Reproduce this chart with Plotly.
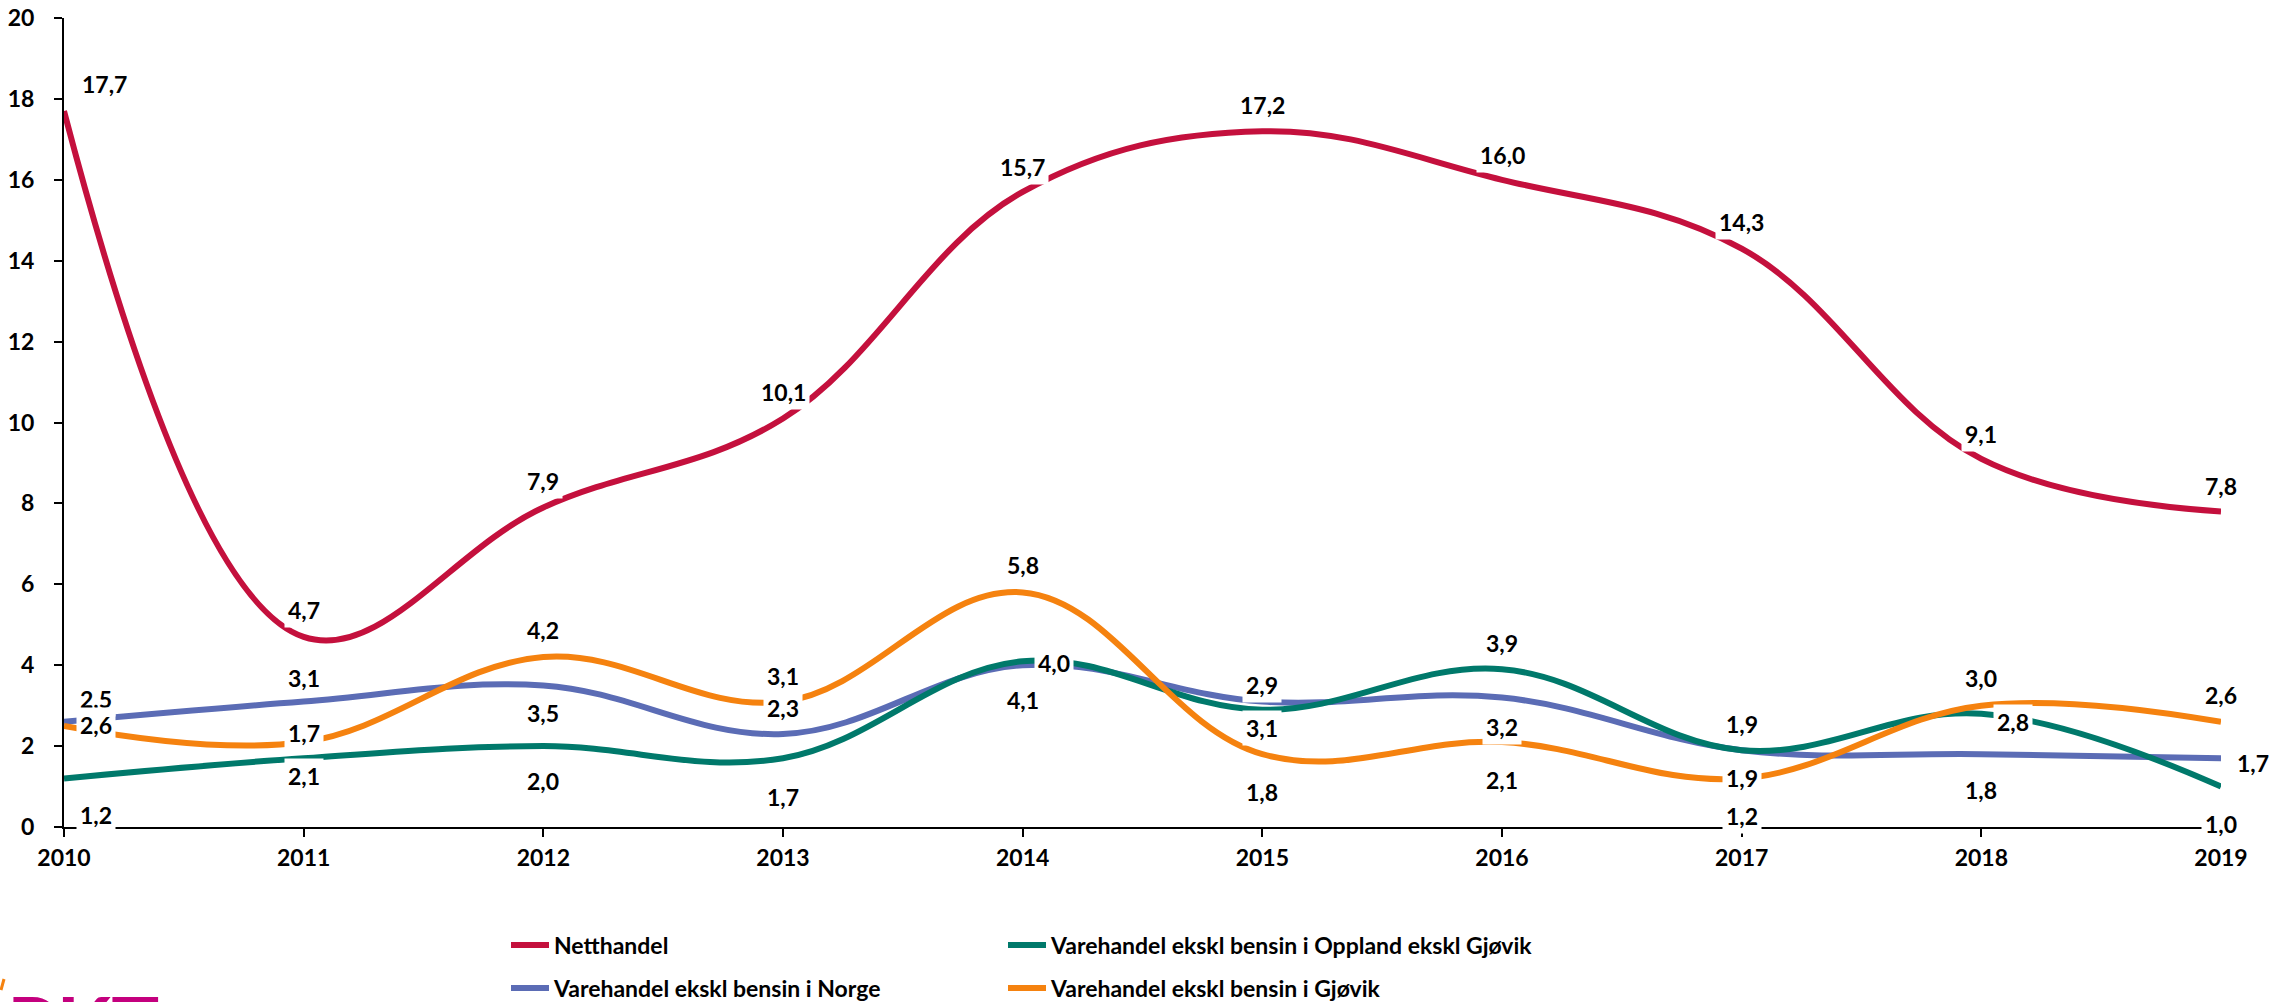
import plotly.graph_objects as go

# ---------------- data ----------------
years = [2010, 2011, 2012, 2013, 2014, 2015, 2016, 2017, 2018, 2019]
netthandel = [17.7, 4.7, 7.9, 10.1, 15.7, 17.2, 16.0, 14.3, 9.1, 7.8]
norge = [2.6, 3.1, 3.5, 2.3, 4.0, 3.1, 3.2, 1.9, 1.8, 1.7]
oppland = [1.2, 1.7, 2.0, 1.7, 4.1, 2.9, 3.9, 1.9, 2.8, 1.0]
gjovik = [2.5, 2.1, 4.2, 3.1, 5.8, 1.8, 2.1, 1.2, 3.0, 2.6]
y_ticks = [0, 2, 4, 6, 8, 10, 12, 14, 16, 18, 20]

names = [
    "Netthandel",
    "Varehandel ekskl bensin i Norge",
    "Varehandel ekskl bensin i Oppland ekskl Gjøvik",
    "Varehandel ekskl bensin i Gjøvik",
]
series = [netthandel, norge, oppland, gjovik]

# ---------------- style ----------------
colors = ["#C4103D", "#5B6CB5", "#00796B", "#F5820F"]
FONT = "Lato"
FS = 23

# label offsets in pixels (dx right, dy down) for each point of each series
label_offsets = [
    [(40, -27), (0, -27), (0, -26), (0, -26), (0, -25), (0, -26), (0, -25), (0, -27), (0, -25), (0, -25)],
    [(32, 3), (0, -24), (0, 28), (0, -26), (31, -2), (0, 26), (0, 29), (0, 28), (0, 36), (32, 5)],
    [(32, 37), (0, -25), (0, 35), (0, 39), (0, 39), (0, -25), (0, -26), (0, -26), (32, 8), (0, 37)],
    [(32, -27), (0, 34), (0, -27), (0, -26), (0, -27), (0, 38), (0, 38), (0, 38), (0, -28), (0, -27)],
]
# drawing order of label boxes (later ones on top)
label_order = [0, 3, 2, 1]

W, H = 2275, 1002
ML, MR, MT, MB = 64, 54, 18, 175
PW, PH = W - ML - MR, H - MT - MB


def px_x(p):
    return (p - ML) / PW


def px_y(p):
    return (H - MB - p) / PH


fig = go.Figure()
legend_ids = ["legend", "legend2", "legend3", "legend4"]
for name, vals, col, lg in zip(names, series, colors, legend_ids):
    fig.add_trace(go.Scatter(
        x=years, y=vals, name=name, mode="lines",
        line=dict(color=col, width=6, shape="spline", smoothing=1.1),
        legend=lg, hoverinfo="skip",
    ))

annotations = []
for si in label_order:
    for x, v, (dx, dy) in zip(years, series[si], label_offsets[si]):
        annotations.append(dict(
            x=x, y=v, xref="x", yref="y",
            text=f"{v:.1f}".replace(".", ","),
            showarrow=False, xshift=dx, yshift=-dy,
            font=dict(family=FONT, size=FS, color="black", weight="bold"),
            bgcolor="white", borderpad=3,
        ))

# partially visible logo at the bottom-left corner
annotations.append(dict(
    x=px_x(6), y=px_y(975), xref="paper", yref="paper",
    xanchor="left", yanchor="top", text="PKT", showarrow=False,
    font=dict(family=FONT, size=80, color="#C4007E", weight="bold"),
    borderpad=0,
))

legend_pos = [(506, 945), (506, 988), (1003, 945), (1003, 988)]
legend_cfg = {}
for lg, (lx, ly) in zip(legend_ids, legend_pos):
    legend_cfg[lg] = dict(
        x=lx / W, y=1 - ly / H, xref="container", yref="container",
        xanchor="left", yanchor="middle",
        font=dict(family=FONT, size=FS, color="black", weight="bold"),
        bgcolor="rgba(0,0,0,0)", itemwidth=38,
    )

fig.update_layout(
    width=W, height=H,
    margin=dict(l=ML, r=MR, t=MT, b=MB, autoexpand=False),
    paper_bgcolor="white", plot_bgcolor="white",
    showlegend=True,
    annotations=annotations,
    shapes=[dict(type="line", xref="paper", yref="paper",
                 x0=px_x(1), y0=px_y(990), x1=px_x(4), y1=px_y(979),
                 line=dict(color="#F5820F", width=3))],
    **legend_cfg,
)

fig.update_xaxes(
    range=[2010, 2019], tickvals=years, ticktext=[str(y) for y in years],
    showline=True, linecolor="black", linewidth=2,
    ticks="outside", ticklen=8, tickwidth=2, tickcolor="black",
    showgrid=False, zeroline=False, ticklabelstandoff=1, automargin=False,
    tickfont=dict(family=FONT, size=FS, color="black", weight="bold"),
)
fig.update_yaxes(
    range=[0, 20], tickvals=y_ticks, ticktext=[str(t) for t in y_ticks],
    showline=True, linecolor="black", linewidth=2,
    ticks="outside", ticklen=8, tickwidth=2, tickcolor="black",
    showgrid=False, zeroline=False, ticklabelstandoff=15, automargin=False,
    tickfont=dict(family=FONT, size=FS, color="black", weight="bold"),
)

fig.write_html(
    "out.html",
    config={"displayModeBar": False},
    post_script="document.body.style.margin='0';document.body.style.overflow='hidden';",
)
